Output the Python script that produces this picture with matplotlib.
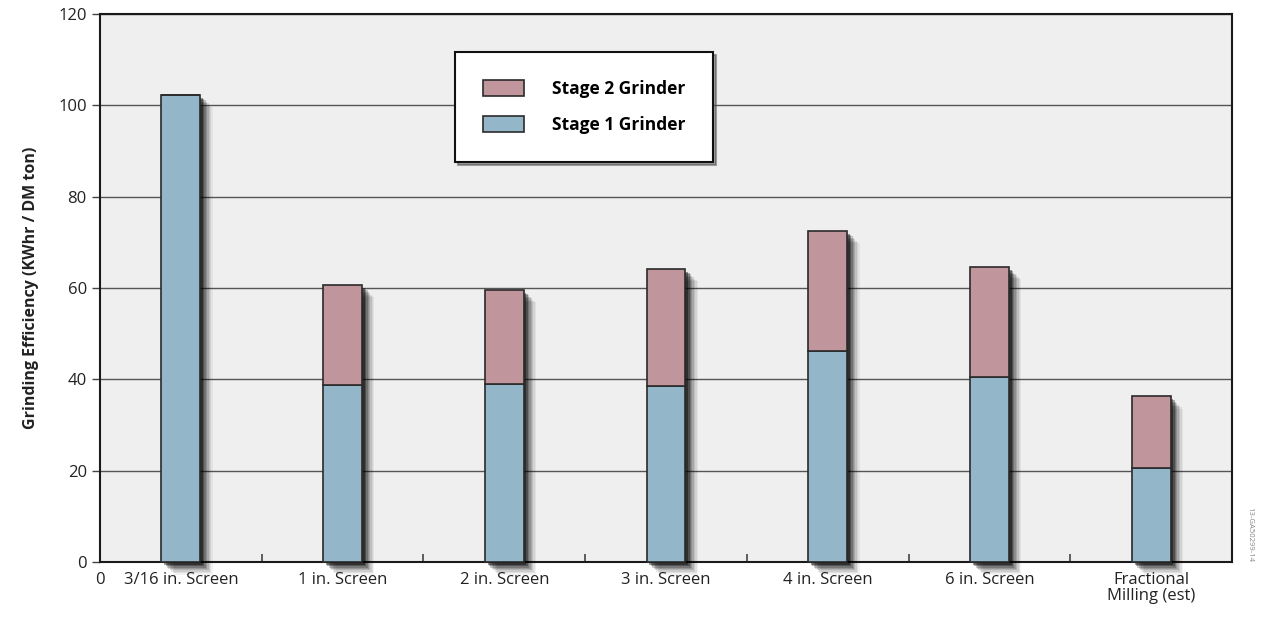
import matplotlib
matplotlib.use("Agg")
import matplotlib.pyplot as plt
import matplotlib.patheffects as pe
import numpy as np

categories = ["3/16 in. Screen", "1 in. Screen", "2 in. Screen", "3 in. Screen",
              "4 in. Screen", "6 in. Screen", "Fractional\nMilling (est)"]
stage1 = [102.3, 38.8, 39.0, 38.5, 46.2, 40.5, 20.6]
stage2_total = [102.3, 60.7, 59.6, 64.2, 72.5, 64.6, 36.3]
stage2 = [t - s for t, s in zip(stage2_total, stage1)]
yticks = [0, 20, 40, 60, 80, 100, 120]

blue = "#93b6c8"
pink = "#c0959c"

plt.rcParams['font.family'] = ['Open Sans', 'DejaVu Sans']

fig = plt.figure(figsize=(12.65, 6.21), dpi=100)
ax = fig.add_axes([100/1265, 59/621, 1132/1265, 548/621])
ax.set_facecolor("#efefef")

x = np.arange(len(categories)) + 0.5
width = 0.24

b1 = ax.bar(x, stage1, width, color=blue, edgecolor="#2a2a2a", linewidth=1.2,
            label="Stage 1 Grinder", zorder=3, clip_on=False)
b2 = ax.bar(x, stage2, width, bottom=stage1, color=pink, edgecolor="#2a2a2a",
            linewidth=1.2, label="Stage 2 Grinder", zorder=3, clip_on=False)

# soft drop shadow behind each full bar
shadow_layers = [pe.SimplePatchShadow(offset=(o, -o), shadow_rgbFace='k', alpha=a)
                 for o, a in [(9, 0.05), (8, 0.07), (7, 0.09), (6, 0.12),
                              (5, 0.15), (4, 0.2), (3, 0.3), (2, 0.4)]]
sh = ax.bar(x, stage2_total, width, color="#555555", edgecolor='none',
            zorder=2.6, clip_on=False)
for r in sh:
    r.set_path_effects(shadow_layers)

ax.set_ylim(0, 120)
ax.set_xlim(0, 7)
ax.set_yticks(yticks)
ax.set_yticklabels([str(v) for v in yticks], fontsize=12, color="#222222")
ax.yaxis.grid(True, color="#555555", linewidth=1.0, zorder=1)
ax.set_axisbelow(True)

ax.set_xticks(np.arange(0, 8))
ax.set_xticklabels(["0"] + [""] * 7, fontsize=12, color="#222222")
ax.set_xticks(x, minor=True)
ax.set_xticklabels(categories, minor=True, fontsize=12, color="#222222",
                   linespacing=1.0)
ax.tick_params(axis='x', which='minor', length=0, pad=7)
ax.tick_params(axis='x', which='major', length=6, width=1.2, direction='in',
               pad=7, color="#444444")
ax.tick_params(axis='y', length=6, width=1.0, direction='out', color="#444444")

for s in ax.spines.values():
    s.set_color("#1a1a1a")
    s.set_linewidth(1.5)
    s.set_zorder(2.5)

ax.set_ylabel("Grinding Efficiency (KWhr / DM ton)", fontsize=11.5,
              fontweight='bold', labelpad=14, color="#222222")

leg = ax.legend([b2, b1], ["Stage 2 Grinder", "Stage 1 Grinder"],
                loc='upper left', bbox_to_anchor=(0.3136, 0.9307),
                borderaxespad=0, frameon=True, fancybox=False, shadow=True,
                prop={'weight': 'bold', 'size': 12.5}, borderpad=1.6,
                handlelength=2.4, handleheight=1.0, handletextpad=1.6,
                labelspacing=1.05)
leg.get_frame().set_edgecolor("#111111")
leg.get_frame().set_linewidth(1.5)
leg.get_frame().set_facecolor("white")
leg.set_zorder(5)

fig.text(1250/1265, (621-535)/621, "13-GA50299-14", rotation=270, fontsize=5.5,
         color="#888888", ha='center', va='center')

fig.savefig("out.png", dpi=100, facecolor="white")
